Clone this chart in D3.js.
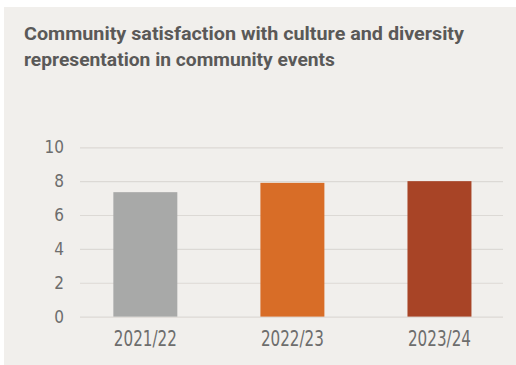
<!DOCTYPE html>
<html>
<head>
<meta charset="utf-8">
<script src="https://cdn.jsdelivr.net/npm/d3@7"></script>
<style>
  html, body { margin: 0; padding: 0; background: #ffffff; }
  svg { display: block; }
</style>
</head>
<body>
<svg id="chart" width="516" height="365"></svg>
<script>
// Satisfaction scores (out of 10) by financial year
const categories = ["2021/22", "2022/23", "2023/24"];
const scores = [7.35, 7.9, 8.0];
const barColors = ["#a8a9a8", "#d86d27", "#a84426"];
const yTicks = [0, 2, 4, 6, 8, 10];
const titleLines = [
  "Community satisfaction with culture and diversity",
  "representation in community events"
];

const svg = d3.select("#chart");
const narrowFont = "'DejaVu Sans Condensed', 'Liberation Sans Narrow', sans-serif";

// panel background
svg.append("rect")
  .attr("x", 4).attr("y", 7)
  .attr("width", 512).attr("height", 358)
  .attr("fill", "#f1efec");

// title
const titleWidths = [440, 311];
svg.append("g").selectAll("text")
  .data(titleLines)
  .join("text")
  .attr("x", 24)
  .attr("y", (d, i) => 39.5 + i * 26.5)
  .attr("textLength", (d, i) => titleWidths[i])
  .attr("lengthAdjust", "spacingAndGlyphs")
  .attr("font-family", "Roboto, 'Open Sans', sans-serif")
  .attr("font-weight", 700)
  .attr("font-size", 18.5)
  .attr("fill", "#5a5958")
  .text(d => d);

const y = d3.scaleLinear().domain([0, 10]).range([316.6, 147.3]);
const x = d3.scaleBand()
  .domain(categories)
  .range([71.8, 513])
  .paddingInner(0.565)
  .paddingOuter(0.2825);

const gridLeft = 80, gridRight = 503;

// gridlines and y tick labels
const yAxis = svg.append("g")
  .attr("transform", `translate(${gridLeft},0)`)
  .call(d3.axisLeft(y).tickValues(yTicks).tickSize(-(gridRight - gridLeft)).tickPadding(16));
yAxis.select(".domain").remove();
yAxis.selectAll(".tick line").attr("stroke", "#dcd9d5").attr("stroke-width", 1.2);
yAxis.selectAll(".tick text")
  .attr("font-family", narrowFont)
  .attr("font-size", 17)
  .attr("fill", "#6d6d6d");

// bars
svg.append("g").selectAll("rect")
  .data(scores)
  .join("rect")
  .attr("x", (d, i) => x(categories[i]))
  .attr("y", d => y(d))
  .attr("width", x.bandwidth())
  .attr("height", d => y(0) - y(d))
  .attr("fill", (d, i) => barColors[i]);

// x labels
const xAxis = svg.append("g")
  .attr("transform", `translate(0,${y(0)})`)
  .call(d3.axisBottom(x).tickSize(0).tickPadding(15));
xAxis.select(".domain").remove();
xAxis.selectAll(".tick text")
  .attr("font-family", narrowFont)
  .attr("font-size", 20.5)
  .attr("textLength", 63)
  .attr("lengthAdjust", "spacingAndGlyphs")
  .attr("fill", "#6d6d6d");
</script>
</body>
</html>
